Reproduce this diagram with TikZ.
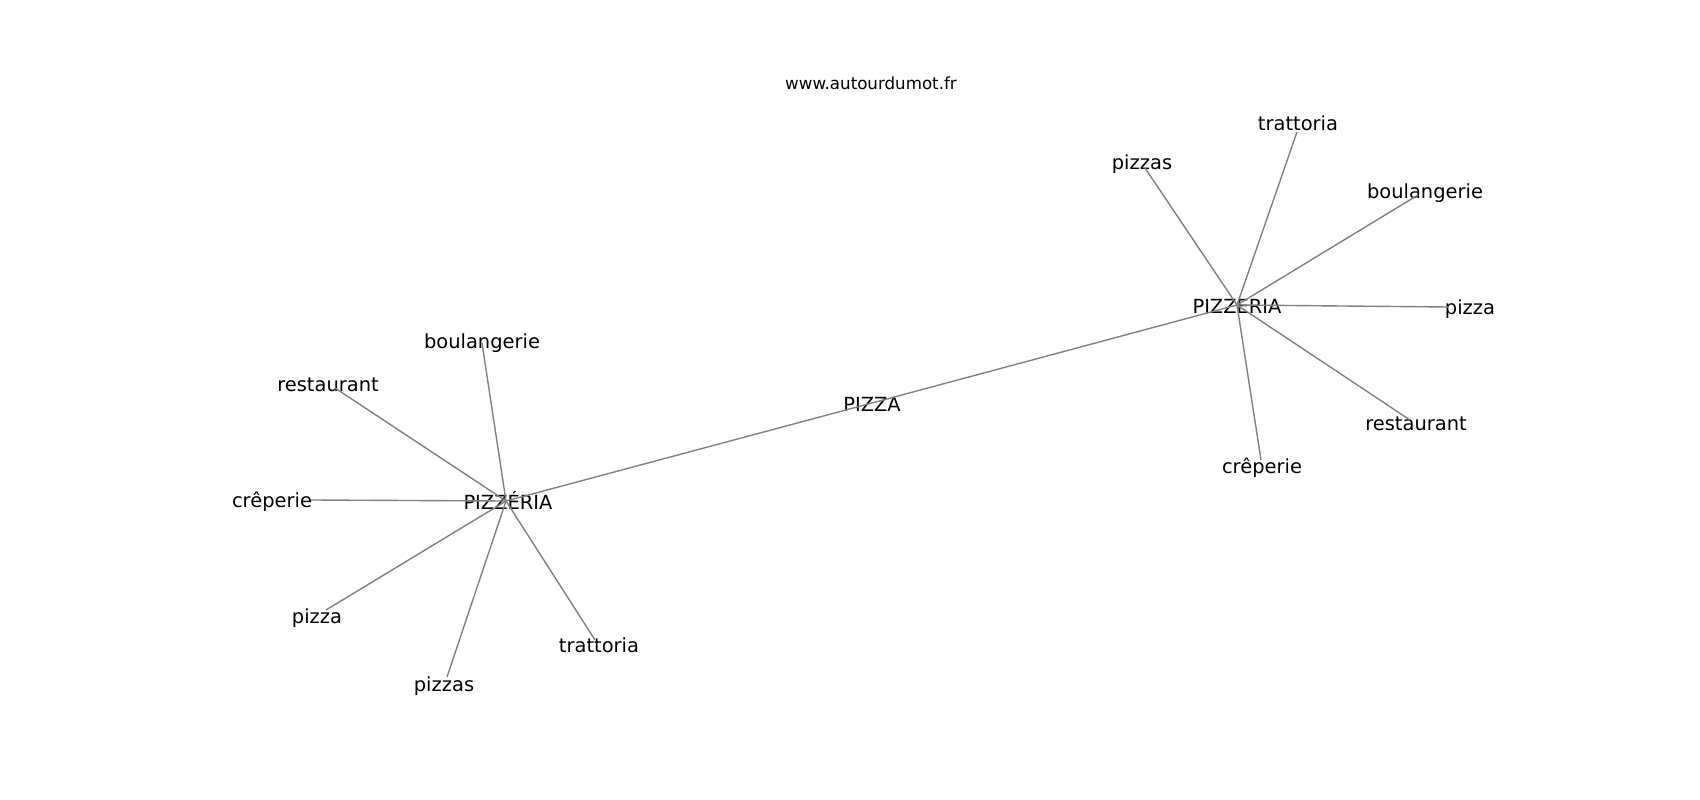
\documentclass[tikz,border=0pt]{standalone}
\usepackage{fontspec}
\setmainfont{DejaVu Sans}
\begin{document}
\begin{tikzpicture}[x=0.01in,y=-0.01in,word/.style={anchor=base,inner sep=0pt,yshift=-1bp,font=\fontsize{14bp}{17bp}\selectfont},site/.style={word,font=\fontsize{12bp}{14bp}\selectfont},link/.style={draw=gray,line width=1bp}]
\useasboundingbox (0,0) rectangle (1700,800);

\node[site] (W) at (871,88) {www.autourdumot.fr};

\coordinate (PZp) at (872,403);
\node[word] (PZ) at (872,410) {PIZZA};

\coordinate (PLp) at (506,501);
\node[word] (PL) at (508,508) {PIZZÉRIA};
\draw[link] (PLp) -- (PZp);
\coordinate (PRp) at (1237,305);
\node[word] (PR) at (1237,312) {PIZZERIA};
\draw[link] (PZp) -- (PRp);

\coordinate (Lbp) at (482,343);
\node[word] (Lb) at (482,347) {boulangerie};
\draw[link] (PLp) -- (Lbp);
\coordinate (Lrp) at (335,388);
\node[word] (Lr) at (328,390) {restaurant};
\draw[link] (PLp) -- (Lrp);
\coordinate (Lcp) at (311,500);
\node[word] (Lc) at (272,506) {crêperie};
\draw[link] (PLp) -- (Lcp);
\coordinate (Lpp) at (326,610);
\node[word] (Lp) at (317,622) {pizza};
\draw[link] (PLp) -- (Lpp);
\coordinate (Lsp) at (447,677);
\node[word] (Ls) at (444,690) {pizzas};
\draw[link] (PLp) -- (Lsp);
\coordinate (Ltp) at (595,640);
\node[word] (Lt) at (599,651) {trattoria};
\draw[link] (PLp) -- (Ltp);

\coordinate (Rtp) at (1297,132);
\node[word] (Rt) at (1298,129) {trattoria};
\draw[link] (PRp) -- (Rtp);
\coordinate (Rsp) at (1145,168);
\node[word] (Rs) at (1142,168) {pizzas};
\draw[link] (PRp) -- (Rsp);
\coordinate (Rbp) at (1418,195);
\node[word] (Rb) at (1425,197) {boulangerie};
\draw[link] (PRp) -- (Rbp);
\coordinate (Rpp) at (1448,307);
\node[word] (Rp) at (1470,313) {pizza};
\draw[link] (PRp) -- (Rpp);
\coordinate (Rrp) at (1410,420);
\node[word] (Rr) at (1416,429) {restaurant};
\draw[link] (PRp) -- (Rrp);
\coordinate (Rcp) at (1261,460);
\node[word] (Rc) at (1262,472) {crêperie};
\draw[link] (PRp) -- (Rcp);
\end{tikzpicture}
\end{document}
